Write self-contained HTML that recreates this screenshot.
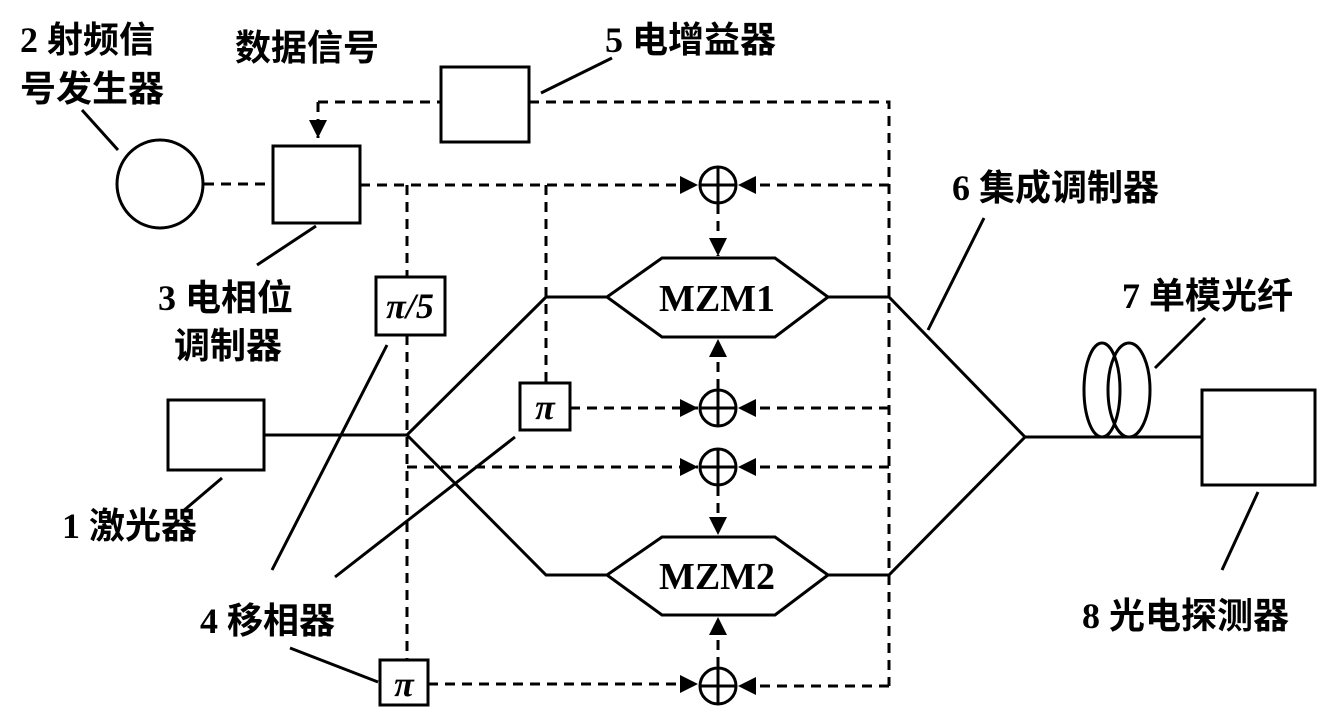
<!DOCTYPE html>
<html><head><meta charset="utf-8"><style>
html,body{margin:0;padding:0;background:#fff;}
svg{display:block}
.t{font-family:"Liberation Serif","Noto Sans CJK SC",serif;font-size:36px;font-weight:bold;fill:#000}
.m{font-family:"Liberation Serif",serif;font-size:38px;font-weight:bold;fill:#000}
.p{font-family:"Liberation Serif",serif;font-size:36px;font-weight:bold;font-style:italic;fill:#000}
</style></head><body>
<svg width="1330" height="723" viewBox="0 0 1330 723" xmlns="http://www.w3.org/2000/svg">
<defs>
<marker id="a" viewBox="0 0 10 10" refX="10" refY="5" markerWidth="6" markerHeight="6" orient="auto"><path d="M0,0 L10,5 L0,10 z" fill="#000"/></marker>
</defs>
<g fill="none" stroke="#000" stroke-width="3">
<ellipse cx="160" cy="184" rx="43" ry="44"/>
<rect x="273" y="146" width="87" height="77"/>
<rect x="441" y="67" width="88" height="75"/>
<rect x="168" y="400" width="96" height="70"/>
<rect x="1202" y="390" width="113" height="95"/>
<rect x="376" y="277" width="69" height="58"/>
<rect x="520" y="383" width="50" height="47"/>
<rect x="380" y="660" width="48" height="45"/>
<circle cx="718" cy="185" r="18"/><path d="M700,185h36M718,167v36"/>
<circle cx="718" cy="408" r="18"/><path d="M700,408h36M718,390v36"/>
<circle cx="718" cy="467" r="18"/><path d="M700,467h36M718,449v36"/>
<circle cx="718" cy="686" r="18"/><path d="M700,686h36M718,668v36"/>
<polygon points="607,297 662,258 775,258 828,297 775,337 662,337"/>
<polygon points="607,575 662,537 775,537 828,575 775,615 662,615"/>
<path d="M264,435H407L546,297H607M407,435L546,575H607M828,297H889L1025,437L889,575H828M1025,437H1202"/>
<ellipse cx="1102" cy="390" rx="18" ry="47"/>
<ellipse cx="1129" cy="390" rx="21" ry="47"/>
<path d="M118,150L82,110M316,226L257,265M541,93L612,58M928,330L984,218M1155,368L1205,318M222,478L182,512M387,345L272,570M515,437L335,577M378,682L290,648M1258,492L1222,570"/>
</g>
<g fill="none" stroke="#000" stroke-width="3" stroke-dasharray="10,7">
<path d="M204,184H273"/>
<path d="M318,102H441M529,102H889V686"/>
<path d="M318,102V138" marker-end="url(#a)"/>
<path d="M360,185H698" marker-end="url(#a)"/>
<path d="M889,185H738" marker-end="url(#a)"/>
<path d="M889,408H738" marker-end="url(#a)"/>
<path d="M889,467H738" marker-end="url(#a)"/>
<path d="M889,686H738" marker-end="url(#a)"/>
<path d="M407,185V277M407,335V660M546,185V383"/>
<path d="M407,467H698" marker-end="url(#a)"/>
<path d="M570,408H698" marker-end="url(#a)"/>
<path d="M428,684H698" marker-end="url(#a)"/>
<path d="M718,204V256" marker-end="url(#a)"/>
<path d="M718,389V339" marker-end="url(#a)"/>
<path d="M718,486V535" marker-end="url(#a)"/>
<path d="M718,667V617" marker-end="url(#a)"/>
</g>
<text class="m" x="717" y="311" text-anchor="middle">MZM1</text>
<text class="m" x="717" y="589" text-anchor="middle">MZM2</text>
<text class="p" x="410" y="318" text-anchor="middle">π/5</text>
<text class="p" x="545" y="419" text-anchor="middle">π</text>
<text class="p" x="404" y="696" text-anchor="middle">π</text>
<text class="t" x="20" y="52">2 射频信</text>
<text class="t" x="20" y="101">号发生器</text>
<text class="t" x="235" y="60">数据信号</text>
<text class="t" x="605" y="52">5 电增益器</text>
<text class="t" x="952" y="200">6 集成调制器</text>
<text class="t" x="158" y="310">3 电相位</text>
<text class="t" x="174" y="358">调制器</text>
<text class="t" x="1122" y="308">7 单模光纤</text>
<text class="t" x="62" y="538">1 激光器</text>
<text class="t" x="200" y="633">4 移相器</text>
<text class="t" x="1082" y="628">8 光电探测器</text>
</svg>
</body></html>
